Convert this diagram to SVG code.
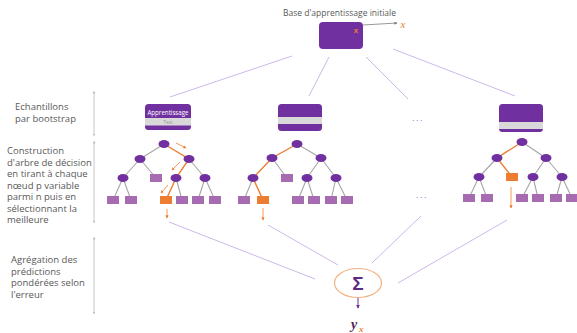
<svg xmlns="http://www.w3.org/2000/svg" width="577" height="333" viewBox="0 0 577 333">
<style>
.lbl{font-family:"Open Sans","Liberation Sans",sans-serif;font-size:9.5px;fill:#595959}
.nd{fill:#7030A0}
.lf{fill:#A66BB0}
.lo{fill:#ED7D31}
.eg{stroke:#A6A6A6;stroke-width:1.1;fill:none}
.eo{stroke:#ED7D31;stroke-width:1.4;fill:none}
.pt{stroke:#ED7D31;stroke-width:0.8;fill:none;marker-end:url(#ao)}
.cn{stroke:#CDB8E8;stroke-width:1;fill:none}
.va{stroke:#C8C8C8;stroke-width:1;fill:none;marker-start:url(#ag);marker-end:url(#ag)}
.dots{font-family:"Liberation Sans",sans-serif;font-size:9px;fill:#9A70C8;letter-spacing:1.5px}
</style>
<defs>
<marker id="ao" viewBox="0 0 6 6" refX="5" refY="3" markerWidth="4" markerHeight="4" orient="auto"><path d="M0,0 L6,3 L0,6 z" fill="#ED7D31"/></marker>
<marker id="ag" viewBox="0 0 6 6" refX="3" refY="3" markerWidth="3" markerHeight="3" orient="auto-start-reverse"><path d="M0,0 L6,3 L0,6 z" fill="#BFBFBF"/></marker>
<marker id="ak" viewBox="0 0 6 6" refX="5" refY="3" markerWidth="4" markerHeight="4" orient="auto"><path d="M0,0 L6,3 L0,6 z" fill="#7F7F7F"/></marker>
<marker id="ap" viewBox="0 0 6 6" refX="5" refY="3" markerWidth="4" markerHeight="4" orient="auto"><path d="M0,0 L6,3 L0,6 z" fill="#7030A0"/></marker>
</defs>

<g id="labels">
<text class="lbl" x="15" y="110">Echantillons</text>
<text class="lbl" x="15" y="122">par bootstrap</text>
<text class="lbl" x="7" y="154">Construction</text>
<text class="lbl" x="7" y="165.5">d'arbre de décision</text>
<text class="lbl" x="7" y="177">en tirant à chaque</text>
<text class="lbl" x="7" y="188.5">nœud p variable</text>
<text class="lbl" x="7" y="200">parmi n puis en</text>
<text class="lbl" x="7" y="211.5">sélectionnant la</text>
<text class="lbl" x="7" y="223">meilleure</text>
<text class="lbl" x="11" y="263">Agrégation des</text>
<text class="lbl" x="11" y="274.5">prédictions</text>
<text class="lbl" x="11" y="286">pondérées selon</text>
<text class="lbl" x="11" y="297.5">l'erreur</text>
<line class="va" x1="94" y1="92" x2="94" y2="135"/>
<line class="va" x1="94" y1="142" x2="94" y2="222"/>
<line class="va" x1="94" y1="238" x2="94" y2="313"/>
</g>

<g id="connectors">
<line class="cn" x1="292" y1="56" x2="170" y2="97"/>
<line class="cn" x1="329" y1="57" x2="309" y2="96"/>
<line class="cn" x1="366" y1="57" x2="408" y2="99"/>
<line class="cn" x1="393" y1="49" x2="515" y2="96"/>
<line class="cn" x1="169" y1="222" x2="315" y2="279"/>
<line class="cn" x1="268" y1="225" x2="338" y2="265"/>
<line class="cn" x1="421" y1="216" x2="372" y2="263"/>
<line class="cn" x1="507" y1="220" x2="398" y2="283"/>
<line x1="363" y1="25" x2="397" y2="23" stroke="#7F7F7F" stroke-width="0.8" marker-end="url(#ak)"/>
<line x1="358" y1="298" x2="358" y2="308" stroke="#7030A0" stroke-width="1" marker-end="url(#ap)"/>
</g>

<g id="base">
<text class="lbl" x="283" y="16" textLength="113" lengthAdjust="spacingAndGlyphs">Base  d'apprentissage initiale</text>
<rect x="319" y="22" width="44" height="27" rx="4" fill="#7030A0"/>
<text x="356" y="33" font-family="Liberation Sans,sans-serif" font-size="8" font-weight="bold" fill="#ED7D31" text-anchor="middle">x</text>
<text x="403" y="28" font-family="Liberation Serif,serif" font-style="italic" font-size="11" fill="#ED7D31" text-anchor="middle">x</text>
</g>

<g id="sample1">
<rect x="145" y="104" width="46" height="26" rx="3.5" fill="#7030A0"/>
<rect x="145" y="118" width="46" height="7.5" fill="#D9D9D9"/>
<text x="168" y="114.5" font-family="Open Sans,Liberation Sans,sans-serif" font-size="6.2" fill="#FFFFFF" text-anchor="middle">Apprentissage</text>
<text x="168" y="124" font-family="Open Sans,Liberation Sans,sans-serif" font-size="5" fill="#9A9A9A" text-anchor="middle">Test</text>
</g>
<g id="sample2">
<rect x="278" y="104" width="44" height="27" rx="3.5" fill="#7030A0"/>
<rect x="278" y="117" width="44" height="7" fill="#D9D9D9"/>
</g>
<g id="sample3">
<rect x="499" y="104" width="44" height="28" rx="3.5" fill="#7030A0"/>
<rect x="499" y="122" width="44" height="7" fill="#D9D9D9"/>
</g>
<g id="dots">
<text class="dots" x="412" y="121">...</text>
<text class="dots" x="416" y="198">...</text>
</g>

<g id="tree1">
<path class="eg" d="M164,144L140,159M140,159L123,178M140,159L156,178M189,159L205,178M123,178L113,200M123,178L131,200M176,178L182,200M205,178L198,200M205,178L215,200"/>
<path class="eo" d="M164,144L189,159L176,178L166,200"/>
<line class="pt" x1="176" y1="143" x2="186" y2="148"/>
<line class="pt" x1="180" y1="162" x2="172" y2="170"/>
<line class="pt" x1="168" y1="185" x2="161" y2="193"/>
<line class="pt" x1="167" y1="209" x2="167" y2="218"/>
<g class="nd"><ellipse cx="164" cy="144" rx="5.5" ry="4"/><ellipse cx="140" cy="159" rx="5.5" ry="4"/><ellipse cx="189" cy="159" rx="5.5" ry="4"/><ellipse cx="123" cy="178" rx="5.5" ry="4"/><ellipse cx="176" cy="178" rx="5.5" ry="4"/><ellipse cx="205" cy="178" rx="5.5" ry="4"/></g>
<g class="lf"><rect x="150" y="174" width="12" height="8"/><rect x="107" y="196" width="12" height="8"/><rect x="125" y="196" width="12" height="8"/><rect x="176" y="196" width="12" height="8"/><rect x="192" y="196" width="12" height="8"/><rect x="209" y="196" width="12" height="8"/></g>
<rect class="lo" x="160" y="196" width="12" height="8"/>
</g>

<g id="tree2">
<path class="eg" d="M297,144L321,158M272,158L287,178M321,158L307,178M321,158L336,178M253,178L244,200M307,178L298,200M307,178L314,200M336,178L331,200M336,178L347,200"/>
<path class="eo" d="M297,144L272,158L253,178L263,200"/>
<line class="pt" x1="263" y1="208" x2="263" y2="220"/>
<g class="nd"><ellipse cx="297" cy="144" rx="5.5" ry="4"/><ellipse cx="272" cy="158" rx="5.5" ry="4"/><ellipse cx="321" cy="158" rx="5.5" ry="4"/><ellipse cx="253" cy="178" rx="5.5" ry="4"/><ellipse cx="307" cy="178" rx="5.5" ry="4"/><ellipse cx="336" cy="178" rx="5.5" ry="4"/></g>
<g class="lf"><rect x="281" y="174" width="12" height="8"/><rect x="238" y="196" width="12" height="8"/><rect x="292" y="196" width="12" height="8"/><rect x="308" y="196" width="12" height="8"/><rect x="325" y="196" width="12" height="8"/><rect x="341" y="196" width="12" height="8"/></g>
<rect class="lo" x="257" y="196" width="12" height="8"/>
</g>

<g id="tree3">
<path class="eg" d="M522,142L546,158M497,158L479,177M546,158L533,177M546,158L562,177M479,177L469,198M479,177L487,198M533,177L522,198M533,177L538,198M562,177L556,198M562,177L572,198"/>
<path class="eo" d="M522,142L497,158L512,177"/>
<line class="pt" x1="511" y1="187" x2="511" y2="208"/>
<g class="nd"><ellipse cx="522" cy="142" rx="5.5" ry="4"/><ellipse cx="497" cy="158" rx="5.5" ry="4"/><ellipse cx="546" cy="158" rx="5.5" ry="4"/><ellipse cx="479" cy="177" rx="5.5" ry="4"/><ellipse cx="533" cy="177" rx="5.5" ry="4"/><ellipse cx="562" cy="177" rx="5.5" ry="4"/></g>
<g class="lf"><rect x="463" y="194" width="12" height="8"/><rect x="481" y="194" width="12" height="8"/><rect x="516" y="194" width="12" height="8"/><rect x="532" y="194" width="12" height="8"/><rect x="550" y="194" width="12" height="8"/><rect x="566" y="194" width="12" height="8"/></g>
<rect class="lo" x="506" y="173" width="12" height="8"/>
</g>

<g id="sigma">
<ellipse cx="358" cy="283" rx="23.5" ry="14.5" fill="#FFFFFF" stroke="#F4B183" stroke-width="1.2"/>
<text x="358" y="290" font-family="Liberation Sans,sans-serif" font-size="19" font-weight="bold" fill="#5B2C83" text-anchor="middle">Σ</text>
</g>
<g id="output">
<text x="351" y="329" font-family="Liberation Serif,serif" font-style="italic" font-weight="bold" font-size="14" fill="#4A235A">y</text>
<text x="359" y="332" font-family="Liberation Serif,serif" font-style="italic" font-weight="bold" font-size="9" fill="#ED7D31">x</text>
</g>
</svg>
